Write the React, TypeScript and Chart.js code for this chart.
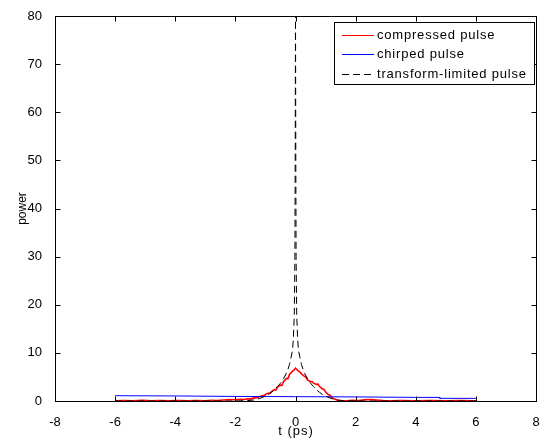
import React, { useEffect, useRef } from "react";
import { Chart, registerables } from "chart.js";

Chart.register(...registerables);

// ---- data ----
const xTickValues = [-8, -6, -4, -2, 0, 2, 4, 6, 8];
const yTickValues = [0, 10, 20, 30, 40, 50, 60, 70, 80];
const seriesLabels = ["compressed pulse", "chirped pulse", "transform-limited pulse"];
const xAxisTitle = "t (ps)";
const yAxisTitle = "power";

// compressed pulse (red)
const compressedT = [
  -6, -5.7, -5.4, -5.1, -4.8, -4.5, -4.2, -3.9, -3.6, -3.3, -3.0, -2.8, -2.6, -2.4, -2.2, -2.0,
  -1.85, -1.7, -1.6, -1.5, -1.4, -1.3, -1.25, -1.2, -1.1, -1.05, -1.0, -0.9, -0.85, -0.8, -0.7,
  -0.65, -0.6, -0.5, -0.45, -0.4, -0.3, -0.25, -0.2, -0.1, -0.05, 0, 0.05, 0.1, 0.15, 0.2, 0.3,
  0.35, 0.4, 0.5, 0.55, 0.6, 0.7, 0.75, 0.8, 0.9, 0.95, 1.0, 1.1, 1.15, 1.2, 1.3, 1.4,
  1.5, 1.7, 1.9, 2.1, 2.3, 2.5, 2.7, 2.9, 3.2, 3.5, 4.0, 4.5, 5.0, 5.5, 6.0,
];
const compressedP = [
  0.05, 0.1, 0.05, 0.12, 0.05, 0.1, 0.04, 0.1, 0.06, 0.1, 0.05, 0.15, 0.1, 0.2, 0.3, 0.25,
  0.35, 0.3, 0.45, 0.4, 0.6, 0.75, 0.7, 0.9, 1.15, 1.1, 1.35, 1.65, 1.6, 1.95, 2.35,
  2.3, 2.9, 3.3, 3.25, 4.0, 4.7, 4.65, 5.5, 6.2, 6.4, 6.8, 6.5, 6.2, 6.0, 5.6, 5.1,
  4.9, 4.4, 4.0, 4.05, 3.7, 3.45, 3.5, 3.0, 2.5, 2.4, 1.85, 1.3, 1.2, 0.75, 0.4, 0.15,
  0.1, 0.05, 0.15, 0.1, 0.25, 0.3, 0.2, 0.1, 0.05, 0.1, 0.05, 0.1, 0.05, 0.1, 0.05,
];

// chirped pulse (blue)
const chirpedT = [-6, -4, -2, 0, 2, 4, 4.8, 4.8, 6];
const chirpedP = [1.1, 1.05, 0.95, 0.9, 0.85, 0.75, 0.75, 0.55, 0.55];

// transform-limited pulse (black dashed)
const limitedT = [
  -6, -2, -1.6, -1.4, -1.2, -1.0, -0.9, -0.8, -0.7, -0.6, -0.5, -0.4, -0.3, -0.25, -0.2, -0.15,
  -0.1, -0.07, -0.04, -0.02, -0.01, 0, 0.01, 0.02, 0.04, 0.07, 0.1, 0.15, 0.2, 0.25, 0.3, 0.4,
  0.5, 0.6, 0.7, 0.8, 0.9, 1.0, 1.2, 1.4, 1.6, 2, 6,
];
const limitedP = [
  0, 0, 0.08, 0.2, 0.5, 1.0, 1.35, 1.8, 2.3, 3.0, 3.7, 4.6, 5.8, 6.6, 7.6, 9.0,
  10.5, 13, 18, 30, 50, 80, 50, 30, 18, 13, 10.5, 9.0, 7.6, 6.6, 5.8, 4.6,
  3.7, 3.0, 2.3, 1.8, 1.35, 1.0, 0.5, 0.2, 0.08, 0, 0,
];

const FONT = '"Liberation Sans", Arial, Helvetica, sans-serif';
const DASH = [7, 4];
const limitedPeakIndex = limitedP.indexOf(Math.max(...limitedP));

const toPoints = (t: number[], p: number[]) => t.map((x, i) => ({ x, y: p[i] }));

// make the descending half reuse the ascending half's dash phase (so the overlapping
// halves of the narrow spike read as one dashed line)
const mirroredDashOffset = (sc: any) => {
  if (sc.p0DataIndex < limitedPeakIndex) return 0;
  const pts = sc.chart.getDatasetMeta(sc.datasetIndex).data;
  let S = 0;
  for (let i = 1; i <= limitedPeakIndex; i++) {
    S += Math.hypot(pts[i].x - pts[i - 1].x, pts[i].y - pts[i - 1].y);
  }
  const P = DASH[0] + DASH[1];
  return (((DASH[0] - S) % P) + P) % P;
};

const framePlugin = {
  id: "matlabFrame",
  afterDraw(chart: any) {
    const { ctx, chartArea: a, scales } = chart;
    ctx.save();
    ctx.strokeStyle = "#000";
    ctx.lineWidth = 1;
    const L = Math.round(a.left) + 0.5;
    const R = Math.round(a.right) + 0.5;
    const T = Math.round(a.top) + 0.5;
    const B = Math.round(a.bottom) + 0.5;
    ctx.strokeRect(L, T, R - L, B - T);
    const tl = 5;
    ctx.beginPath();
    xTickValues.forEach((v) => {
      const px = Math.round(scales.x.getPixelForValue(v)) + 0.5;
      ctx.moveTo(px, B);
      ctx.lineTo(px, B - tl);
      ctx.moveTo(px, T);
      ctx.lineTo(px, T + tl);
    });
    yTickValues.forEach((v) => {
      const py = Math.round(scales.y.getPixelForValue(v)) + 0.5;
      ctx.moveTo(L, py);
      ctx.lineTo(L + tl, py);
      ctx.moveTo(R, py);
      ctx.lineTo(R - tl, py);
    });
    ctx.stroke();

    // axis titles
    ctx.fillStyle = "#000";
    ctx.font = `13px ${FONT}`;
    ctx.textAlign = "center";
    ctx.textBaseline = "middle";
    try { ctx.letterSpacing = "1px"; } catch (e) {}
    ctx.fillText(xAxisTitle, (a.left + a.right) / 2 + 0.5, 431);
    try { ctx.letterSpacing = "0px"; } catch (e) {}
    ctx.save();
    ctx.translate(23, (a.top + a.bottom) / 2);
    ctx.rotate(-Math.PI / 2);
    ctx.font = `12px ${FONT}`;
    ctx.fillText(yAxisTitle, 0, 0);
    ctx.restore();

    // legend
    const lx = 334.5, ly = 22.5, lw = 200, lh = 62;
    ctx.fillStyle = "#fff";
    ctx.fillRect(lx, ly, lw, lh);
    ctx.strokeStyle = "#000";
    ctx.strokeRect(lx, ly, lw, lh);
    const ds = chart.data.datasets;
    const rows = [34.5, 54, 73.5];
    ds.forEach((d: any, i: number) => {
      const y = Math.round(rows[i]) + 0.5;
      ctx.beginPath();
      ctx.strokeStyle = d.borderColor;
      ctx.lineWidth = 1;
      ctx.setLineDash(d.borderDash || []);
      ctx.lineDashOffset = 0;
      ctx.moveTo(342, y);
      ctx.lineTo(374, y);
      ctx.stroke();
      ctx.setLineDash([]);
      ctx.fillStyle = "#000";
      ctx.font = `13px ${FONT}`;
      ctx.textAlign = "left";
      ctx.textBaseline = "middle";
      try { ctx.letterSpacing = "0.8px"; } catch (e) {}
      ctx.fillText(d.label, 377, rows[i] + 0.5);
      try { ctx.letterSpacing = "0px"; } catch (e) {}
    });
    ctx.restore();
  },
};

export default function App() {
  const ref = useRef<HTMLCanvasElement>(null);
  useEffect(() => {
    if (!ref.current) return;
    const chart = new Chart(ref.current, {
      type: "line",
      data: {
        datasets: [
          {
            label: seriesLabels[0],
            data: toPoints(compressedT, compressedP),
            borderColor: "#ff0000",
            borderWidth: 1.6,
            pointRadius: 0,
            tension: 0,
            order: 2,
          },
          {
            label: seriesLabels[1],
            data: toPoints(chirpedT, chirpedP),
            borderColor: "#0000ff",
            borderWidth: 1,
            pointRadius: 0,
            tension: 0,
            order: 1,
          },
          {
            label: seriesLabels[2],
            data: toPoints(limitedT, limitedP),
            borderColor: "#000000",
            borderWidth: 1,
            borderDash: DASH,
            pointRadius: 0,
            tension: 0,
            order: 0,
            segment: { borderDashOffset: mirroredDashOffset },
          },
        ],
      },
      options: {
        animation: false,
        responsive: false,
        devicePixelRatio: 1,
        layout: { padding: { top: 16, right: 11, left: 0, bottom: 0 } },
        plugins: { legend: { display: false }, tooltip: { enabled: false } },
        scales: {
          x: {
            type: "linear",
            min: -8,
            max: 8,
            afterFit: (s: any) => { s.height = 37; },
            afterBuildTicks: (s: any) => { s.ticks = xTickValues.map((v) => ({ value: v })); },
            grid: { display: false },
            border: { display: false },
            ticks: { color: "#000", font: { family: FONT, size: 13 }, padding: 6, maxRotation: 0, autoSkip: false },
          },
          y: {
            type: "linear",
            min: 0,
            max: 80,
            afterFit: (s: any) => { s.width = 55; },
            afterBuildTicks: (s: any) => { s.ticks = yTickValues.map((v) => ({ value: v })); },
            grid: { display: false },
            border: { display: false },
            ticks: { color: "#000", font: { family: FONT, size: 13 }, padding: 5, autoSkip: false },
          },
        },
      },
      plugins: [framePlugin],
    });
    return () => chart.destroy();
  }, []);
  return (
    <div style={{ position: "absolute", left: 0, top: 0, width: 547, height: 438, background: "#fff" }}>
      <canvas ref={ref} width={547} height={438} style={{ display: "block" }} />
    </div>
  );
}
